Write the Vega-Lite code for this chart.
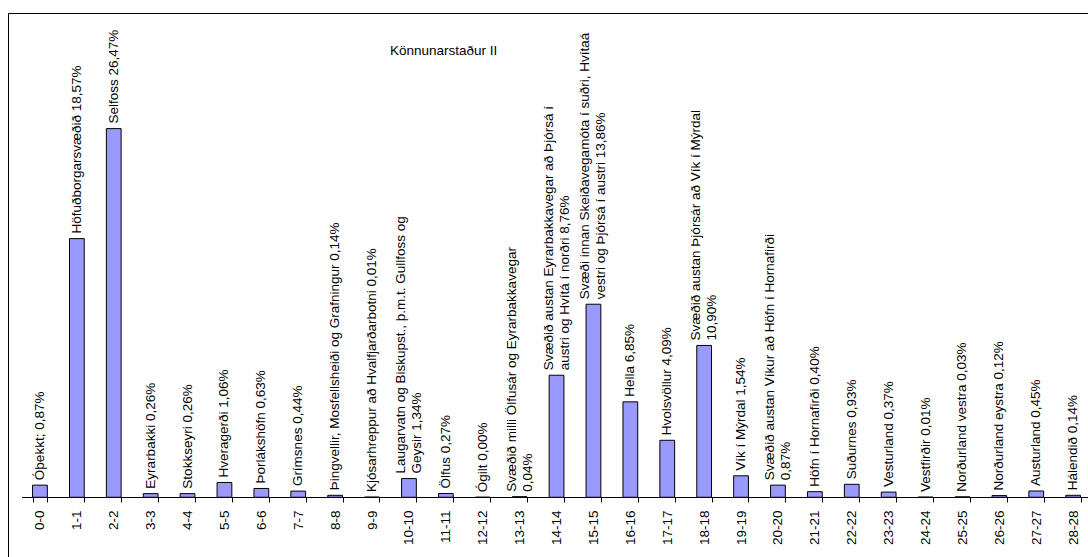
{
  "$schema": "https://vega.github.io/schema/vega-lite/v6.json",
  "width": 1080,
  "height": 544,
  "autosize": {"type": "none"},
  "padding": {"left": 8, "top": 13, "right": 0, "bottom": 0},
  "background": "white",
  "config": {
    "view": {"stroke": "black", "strokeWidth": 1, "strokeDash": [1080, 1624, 600]},
    "font": "Liberation Sans"
  },
  "title": {
    "text": "Könnunarstaður II",
    "anchor": "start",
    "frame": "group",
    "orient": "top",
    "offset": 0,
    "dx": 382,
    "dy": 55,
    "fontSize": 13.5,
    "fontWeight": "normal",
    "font": "Liberation Sans",
    "color": "black",
    "baseline": "alphabetic"
  },
  "data": {
    "values": [
      {"cat": "0-0", "value": 0.87, "label": "Óþekkt; 0,87%"},
      {"cat": "1-1", "value": 18.57, "label": "Höfuðborgarsvæðið 18,57%"},
      {"cat": "2-2", "value": 26.47, "label": "Selfoss 26,47%"},
      {"cat": "3-3", "value": 0.26, "label": "Eyrarbakki 0,26%"},
      {"cat": "4-4", "value": 0.26, "label": "Stokkseyri 0,26%"},
      {"cat": "5-5", "value": 1.06, "label": "Hveragerði  1,06%"},
      {"cat": "6-6", "value": 0.63, "label": "Þorlákshöfn  0,63%"},
      {"cat": "7-7", "value": 0.44, "label": "Grímsnes  0,44%"},
      {"cat": "8-8", "value": 0.14, "label": "Þingvellir, Mosfellsheiði og Grafningur  0,14%"},
      {"cat": "9-9", "value": 0.01, "label": "Kjósarhreppur að Hvalfjarðarbotni  0,01%"},
      {"cat": "10-10", "value": 1.34, "label": "Laugarvatn og Biskupst., þ.m.t. Gullfoss og\nGeysir  1,34%"},
      {"cat": "11-11", "value": 0.27, "label": "Ölfus  0,27%"},
      {"cat": "12-12", "value": 0.0, "label": "Ógilt  0,00%"},
      {"cat": "13-13", "value": 0.04, "label": "Svæðið milli Ölfusár og Eyrarbakkavegar\n0,04%"},
      {"cat": "14-14", "value": 8.76, "label": "Svæðið austan Eyrarbakkavegar að Þjórsá í\naustri og Hvítá í norðri  8,76%"},
      {"cat": "15-15", "value": 13.86, "label": "Svæði innan Skeiðavegamóta í suðri, Hvítaá\nvestri og Þjórsá í austri 13,86%"},
      {"cat": "16-16", "value": 6.85, "label": "Hella  6,85%"},
      {"cat": "17-17", "value": 4.09, "label": "Hvolsvöllur  4,09%"},
      {"cat": "18-18", "value": 10.9, "label": "Svæðið austan Þjórsár að Vík í Mýrdal\n10,90%"},
      {"cat": "19-19", "value": 1.54, "label": "Vík í Mýrdal  1,54%"},
      {"cat": "20-20", "value": 0.87, "label": "Svæðið austan Víkur að Höfn í Hornafirði\n0,87%"},
      {"cat": "21-21", "value": 0.4, "label": "Höfn í Hornafirði  0,40%"},
      {"cat": "22-22", "value": 0.93, "label": "Suðurnes  0,93%"},
      {"cat": "23-23", "value": 0.37, "label": "Vesturland  0,37%"},
      {"cat": "24-24", "value": 0.01, "label": "Vestfirðir  0,01%"},
      {"cat": "25-25", "value": 0.03, "label": "Norðurland vestra  0,03%"},
      {"cat": "26-26", "value": 0.12, "label": "Norðurland eystra  0,12%"},
      {"cat": "27-27", "value": 0.45, "label": "Austurland  0,45%"},
      {"cat": "28-28", "value": 0.14, "label": "Hálendið  0,14%"}
    ]
  },
  "encoding": {
    "x": {
      "field": "cat",
      "type": "nominal",
      "sort": null,
      "scale": {"range": [13.5, 1083.6], "paddingInner": 0.6, "paddingOuter": 0.3},
      "axis": {
        "title": null,
        "labelAngle": 270,
        "labelFontSize": 13.5,
        "labelFont": "Liberation Sans",
        "labelColor": "black",
        "tickColor": "black",
        "domainColor": "black",
        "tickBand": "extent",
        "tickSize": 5,
        "labelPadding": 8,
        "offset": -60,
        "grid": false
      }
    },
    "y": {
      "field": "value",
      "type": "quantitative",
      "scale": {"domain": [-4.29, 34.77], "nice": false, "zero": false},
      "axis": null
    }
  },
  "layer": [
    {
      "mark": {"type": "bar", "fill": "#9999FF", "stroke": "black", "strokeWidth": 1}
    },
    {
      "transform": [{"filter": "indexof(datum.label, '\\n') < 0"}],
      "mark": {
        "type": "text",
        "angle": 270,
        "align": "left",
        "baseline": "middle",
        "dx": 5,
        "fontSize": 13.5,
        "font": "Liberation Sans",
        "color": "black"
      },
      "encoding": {"text": {"field": "label"}}
    },
    {
      "transform": [{"filter": "indexof(datum.label, '\\n') >= 0"}],
      "mark": {
        "type": "text",
        "angle": 270,
        "align": "left",
        "baseline": "middle",
        "dx": 5,
        "dy": -8,
        "fontSize": 13.5,
        "font": "Liberation Sans",
        "color": "black",
        "lineBreak": "\n",
        "lineHeight": 16
      },
      "encoding": {"text": {"field": "label"}}
    }
  ]
}
